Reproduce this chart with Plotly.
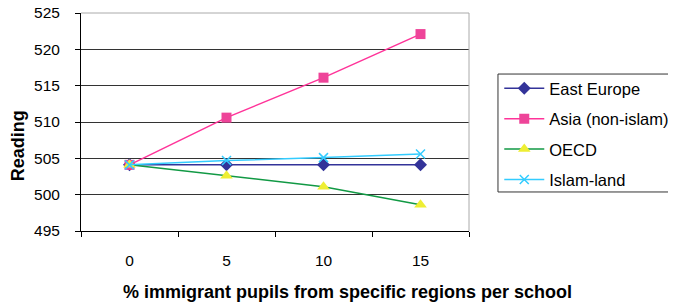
import plotly.graph_objects as go

categories = ["0", "5", "10", "15"]
east_europe = [504.1, 504.1, 504.1, 504.1]
asia = [504.1, 510.6, 516.1, 522.1]
oecd = [504.1, 502.6, 501.1, 498.6]
islam = [504.1, 504.7, 505.1, 505.6]
y_ticks = [495, 500, 505, 510, 515, 520, 525]

fig = go.Figure()
series = [
    ("East Europe", east_europe, "#333399", dict(symbol="diamond", size=10, color="#333399")),
    ("Asia (non-islam)", asia, "#FF3399", dict(symbol="square", size=10, color="#EE4499")),
    ("OECD", oecd, "#119944", dict(symbol="triangle-up", size=11, color="#EEEE33")),
    ("Islam-land", islam, "#33CCFF", dict(symbol="x-thin", size=9, color="#33CCFF",
                                          line=dict(width=1.5, color="#33CCFF"))),
]
for i, (name, vals, col, mk) in enumerate(series):
    fig.add_trace(go.Scatter(x=categories, y=vals, name=name, mode="lines+markers",
                             line=dict(color=col, width=1.5), marker=mk,
                             legendgroup=f"g{i}"))

# page body has an 8px margin; figure sized so it fits the 676x307 window
fig.update_layout(
    width=668, height=299,
    margin=dict(l=73, r=207, t=5, b=76, autoexpand=False),
    paper_bgcolor="white", plot_bgcolor="white",
    font=dict(family="Liberation Sans, Arial, sans-serif", size=15.5, color="black"),
    showlegend=True,
    legend=dict(x=1.078, y=0.734, xanchor="left", yanchor="top",
                borderwidth=0, bgcolor="rgba(0,0,0,0)",
                font=dict(size=16.5), tracegroupgap=6, itemwidth=40),
    xaxis=dict(type="category", range=[-0.5, 3.5], showline=True, linecolor="black",
               linewidth=1, ticks="outside", tickson="boundaries", ticklen=5,
               tickcolor="black", showgrid=False, mirror=False, automargin=False,
               ticklabelstandoff=15),
    yaxis=dict(range=[495, 525], tickvals=y_ticks, showline=True, linecolor="black",
               linewidth=1, ticks="outside", ticklen=5, tickcolor="black",
               showgrid=True, gridcolor="#333333", gridwidth=1, zeroline=False,
               automargin=False, ticklabelstandoff=12, ticklabeloverflow="allow"),
)
# axis titles
fig.add_annotation(text="<b>% immigrant pupils from specific regions per school</b>",
                   xref="paper", yref="paper", x=0.688, y=-0.28, showarrow=False,
                   xanchor="center", yanchor="middle", font=dict(size=18))
fig.add_annotation(text="<b>Reading</b>", textangle=-90,
                   xref="paper", yref="paper", x=-0.163, y=0.392, showarrow=False,
                   xanchor="center", yanchor="middle", font=dict(size=18))
# right and top plot border (light gray)
fig.add_shape(type="line", xref="paper", yref="paper", x0=1, x1=1, y0=0, y1=1,
              line=dict(color="#AAAAAA", width=1))
fig.add_shape(type="line", xref="paper", yref="paper", x0=0, x1=1, y0=1, y1=1,
              line=dict(color="#AAAAAA", width=1))
# legend frame
fig.add_shape(type="rect", xref="paper", yref="paper", x0=1.0747, x1=1.529,
              y0=0.179, y1=0.720, line=dict(color="#333333", width=1))

fig.write_html("out.html")
